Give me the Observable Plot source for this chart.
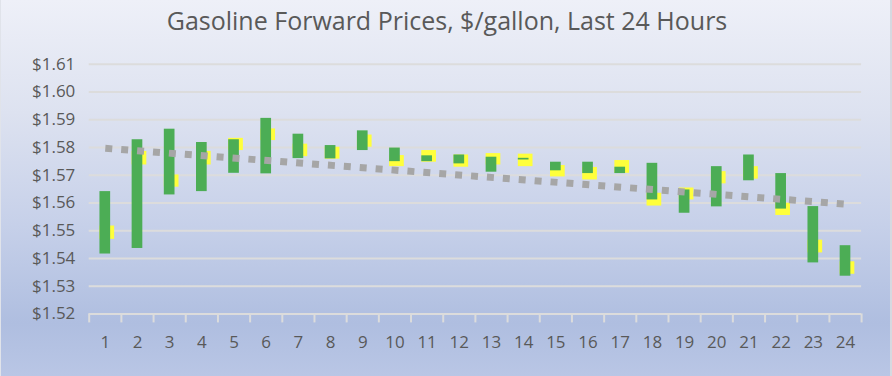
<!DOCTYPE html>
<html>
<head>
<meta charset="utf-8">
<script src="https://cdn.jsdelivr.net/npm/d3@7"></script>
<script src="https://cdn.jsdelivr.net/npm/@observablehq/plot@0.6"></script>
<style>
  html, body { margin: 0; padding: 0; background: #fff; }
  #chart {
    position: relative; width: 892px; height: 376px; overflow: hidden;
    background: linear-gradient(to bottom, #eef0f8 0%, #dde2f0 30%, #c6d0e9 60%, #afbee0 86%, #b9c6e5 100%);
    box-sizing: border-box; border-right: 2px solid #d6d9e0; border-left: 1px solid #e0e3ea;
  }
  #title {
    position: absolute; left: 0; top: 3px; width: 892px; text-align: center;
    font-family: "Open Sans", sans-serif; font-size: 25px; color: #595959;
  }
  #chart svg { position: absolute; left: 0; top: 0; }
</style>
</head>
<body>
<div id="chart"><div id="title">Gasoline Forward Prices, $/gallon, Last 24 Hours</div></div>
<script>
const hours = [1,2,3,4,5,6,7,8,9,10,11,12,13,14,15,16,17,18,19,20,21,22,23,24];
const greenHigh = [1.5641,1.5828,1.5866,1.5818,1.5828,1.5905,1.5848,1.5807,1.5860,1.5798,1.5770,1.5773,1.5765,1.5761,1.5747,1.5747,1.5729,1.5743,1.5647,1.5731,1.5773,1.5706,1.5587,1.5446];
const greenLow  = [1.5416,1.5436,1.5629,1.5641,1.5707,1.5705,1.5760,1.5759,1.5789,1.5749,1.5749,1.5741,1.5711,1.5755,1.5716,1.5706,1.5706,1.5611,1.5563,1.5586,1.5680,1.5578,1.5384,1.5336];
const yellowHigh = [1.5517,1.5786,1.5701,1.5786,1.5833,1.5867,1.5812,1.5801,1.5845,1.5771,1.5789,1.5773,1.5778,1.5776,1.5735,1.5728,1.5753,1.5635,1.5654,1.5713,1.5731,1.5599,1.5466,1.5388];
const yellowLow  = [1.5469,1.5737,1.5657,1.5737,1.5789,1.5825,1.5767,1.5758,1.5801,1.5731,1.5747,1.5729,1.5737,1.5731,1.5694,1.5683,1.5707,1.5589,1.5611,1.5669,1.5686,1.5555,1.5420,1.5343];
const trendHours = [1, 24];
const trendPrices = [1.5797, 1.5596];
const yTicks = [1.52,1.53,1.54,1.55,1.56,1.57,1.58,1.59,1.60,1.61];

const rows = hours.map((h, i) => ({hour: h, gLo: greenLow[i], gHi: greenHigh[i], yLo: yellowLow[i], yHi: yellowHigh[i]}));
const trend = trendHours.map((h, i) => ({hour: h, price: trendPrices[i]}));
const bounds = d3.range(0.5, 25, 1);

const halfW = 0.166;   // half green bar width in x units
const yExtra = 0.124;  // yellow extends right beyond green

const plot = Plot.plot({
  width: 892,
  height: 376,
  marginLeft: 88,
  marginRight: 29,
  marginTop: 64,
  marginBottom: 61.5,
  style: {background: "transparent", fontFamily: "Open Sans, sans-serif", fontSize: "17px", color: "#595959"},
  x: {type: "linear", domain: [0.5, 24.5], label: null},
  y: {domain: [1.52, 1.61], label: null},
  marks: [
    Plot.gridY(yTicks, {stroke: "#dcdcdc", strokeOpacity: 1, strokeWidth: 2}),
    Plot.axisY(yTicks, {tickSize: 0, tickPadding: 14, tickFormat: d => "$" + d.toFixed(2), fontSize: 17, fill: "#595959", label: null}),
    Plot.axisX(bounds, {tickSize: 9, tickFormat: () => "", stroke: "#dcdcdc", strokeWidth: 2, strokeOpacity: 1, label: null}),
    Plot.axisX(hours, {tickSize: 0, tickPadding: 22, tickFormat: d => String(d), fontSize: 17, fill: "#595959", label: null}),
    Plot.rectY(rows, {x1: d => d.hour - halfW, x2: d => d.hour + halfW + yExtra, y1: "yLo", y2: "yHi", fill: "#ffff3c"}),
    Plot.rectY(rows, {x1: d => d.hour - halfW, x2: d => d.hour + halfW, y1: "gLo", y2: "gHi", fill: "#4cad55"}),
    Plot.line(trend, {x: "hour", y: "price", stroke: "#a6a6a6", strokeWidth: 7, strokeDasharray: "7,9", strokeLinecap: "butt"})
  ]
});
document.getElementById("chart").appendChild(plot);
</script>
</body>
</html>
